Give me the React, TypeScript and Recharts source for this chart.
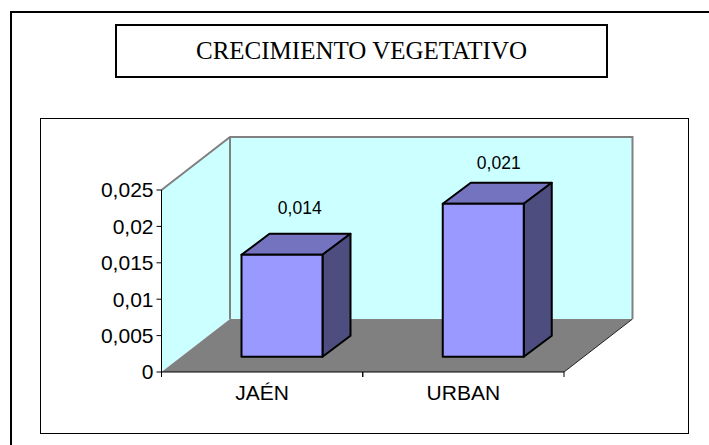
import { Bar, BarChart, CartesianGrid, LabelList, XAxis, YAxis } from 'recharts';

const categories = ['JAÉN', 'URBAN'];
const values = [0.014, 0.021];
const yTicks = [0, 0.005, 0.01, 0.015, 0.02, 0.025];

const data = categories.map((name, i) => ({ name, value: values[i] }));

const WIDTH = 709;
const HEIGHT = 445;

// front plane of the fake 3D plot
const LEFT = 161.5;
const RIGHT = 564;
const TOP = 190;
const BOTTOM = 372;
const BAND = (RIGHT - LEFT) / categories.length;

// how far the back wall sits behind the front plane
const WALL_DX = 68.5;
const WALL_DY = -53;

// bars stand in the middle of the floor, and have their own depth
const BAR_SHIFT_X = 20;
const BAR_SHIFT_Y = -15.3;
const BAR_DX = 28;
const BAR_DY = -21;

// data labels in the original don't follow the bars exactly
const labelShiftX = [37.75, 35.5];
const labelRise = [56, 50.5];

const sans = '"Liberation Sans", Arial, sans-serif';
const serif = '"Liberation Serif", "Times New Roman", serif';

const formatComma = (v: number | string) => String(v).replace('.', ',');

function WallFills() {
  return (
    <g>
      <rect
        x={LEFT + WALL_DX}
        y={TOP + WALL_DY}
        width={RIGHT - LEFT}
        height={BOTTOM - TOP}
        fill="#CCFFFF"
      />
      <polygon
        points={`${LEFT},${TOP} ${LEFT + WALL_DX},${TOP + WALL_DY} ${LEFT + WALL_DX},${BOTTOM + WALL_DY} ${LEFT},${BOTTOM}`}
        fill="#CCFFFF"
      />
    </g>
  );
}

function WallEdges() {
  const backLeft = LEFT + WALL_DX;
  const backRight = RIGHT + WALL_DX;
  const backTop = TOP + WALL_DY;
  const backBottom = BOTTOM + WALL_DY;
  return (
    <g>
      <polygon
        points={`${LEFT},${BOTTOM} ${backLeft},${backBottom} ${backRight},${backBottom} ${RIGHT},${BOTTOM}`}
        fill="#808080"
      />
      <line x1={RIGHT} y1={BOTTOM} x2={backRight} y2={backBottom} stroke="#222" strokeWidth={1} />
      <polyline
        points={`${LEFT},${TOP} ${backLeft},${backTop} ${backRight},${backTop} ${backRight},${backBottom}`}
        fill="none"
        stroke="#808080"
        strokeWidth={2}
      />
      <line x1={backLeft} y1={backTop} x2={backLeft} y2={backBottom} stroke="#808080" strokeWidth={2} />
    </g>
  );
}

// each horizontal grid line runs along the side wall, then across the back
function GridLine({ y1 }: any) {
  if (y1 >= BOTTOM || y1 <= TOP) return <g />;
  const backY = y1 + WALL_DY;
  return (
    <polyline
      points={`${LEFT},${y1} ${LEFT + WALL_DX},${backY} ${RIGHT + WALL_DX},${backY}`}
      fill="none"
      stroke="#000"
      strokeWidth={1}
    />
  );
}

function Box3D({ x, y, width, height }: any) {
  const l = x + BAR_SHIFT_X;
  const r = l + width;
  const t = y + BAR_SHIFT_Y;
  const b = t + height;
  const line = { stroke: '#000', strokeWidth: 2, strokeLinejoin: 'round' as const };
  return (
    <g>
      <polygon
        points={`${l},${t} ${l + BAR_DX},${t + BAR_DY} ${r + BAR_DX},${t + BAR_DY} ${r},${t}`}
        fill="#7373BF"
        {...line}
      />
      <polygon
        points={`${r},${t} ${r + BAR_DX},${t + BAR_DY} ${r + BAR_DX},${b + BAR_DY} ${r},${b}`}
        fill="#4D4D80"
        {...line}
      />
      <rect x={l} y={t} width={width} height={height} fill="#9999FF" {...line} />
    </g>
  );
}

function ValueLabel({ x, y, width, value, index }: any) {
  return (
    <text
      x={x + width / 2 + labelShiftX[index]}
      y={y - labelRise[index]}
      textAnchor="middle"
      fontFamily={sans}
      fontSize={17.5}
      fill="#000"
    >
      {formatComma(value)}
    </text>
  );
}

// ticks sit between the categories, so they're drawn here next to the label
function CategoryTick({ x, y, payload }: any) {
  return (
    <g>
      <line x1={x - BAND / 2} y1={BOTTOM} x2={x - BAND / 2} y2={BOTTOM + 5} stroke="#000" />
      <line x1={x + BAND / 2} y1={BOTTOM} x2={x + BAND / 2} y2={BOTTOM + 5} stroke="#000" />
      <text x={x} y={y + 20} textAnchor="middle" fontFamily={sans} fontSize={21} fill="#000">
        {payload.value}
      </text>
    </g>
  );
}

export default function App() {
  return (
    <div style={{ position: 'absolute', left: 0, top: 0, width: WIDTH, height: HEIGHT, background: '#fff', overflow: 'hidden' }}>
      <div style={{ position: 'absolute', left: 10, top: 11, width: WIDTH, height: HEIGHT, border: '2px solid #000' }} />
      <div
        style={{
          position: 'absolute',
          left: 115,
          top: 23.5,
          width: 489,
          height: 50,
          border: '2px solid #000',
          textAlign: 'center',
          lineHeight: '50px',
          fontFamily: serif,
          fontSize: 25,
          color: '#000',
          whiteSpace: 'nowrap',
        }}
      >
        CRECIMIENTO VEGETATIVO
      </div>
      <div style={{ position: 'absolute', left: 40, top: 118, width: 647, height: 314, border: '1px solid #000' }} />
      <div style={{ position: 'absolute', left: 0, top: 0 }}>
        <BarChart
          width={WIDTH}
          height={HEIGHT}
          data={data}
          barSize={81}
          margin={{ top: TOP, right: WIDTH - RIGHT, bottom: 0, left: 0 }}
        >
          <WallFills />
          <CartesianGrid vertical={false} horizontal={(props: any) => <GridLine key={props.key} {...props} />} />
          <WallEdges />
          <XAxis
            dataKey="name"
            height={HEIGHT - BOTTOM}
            axisLine={{ stroke: '#000', strokeWidth: 1 }}
            tickLine={false}
            tick={<CategoryTick />}
            interval={0}
          />
          <YAxis
            width={LEFT}
            domain={[0, 0.025]}
            ticks={yTicks}
            tickFormatter={formatComma}
            axisLine={{ stroke: '#000', strokeWidth: 1 }}
            tickLine={{ stroke: '#000' }}
            tickSize={5}
            tickMargin={3}
            tick={{ fontFamily: sans, fontSize: 21, fill: '#000' }}
          />
          <Bar dataKey="value" shape={<Box3D />} isAnimationActive={false}>
            <LabelList dataKey="value" content={<ValueLabel />} />
          </Bar>
        </BarChart>
      </div>
    </div>
  );
}
